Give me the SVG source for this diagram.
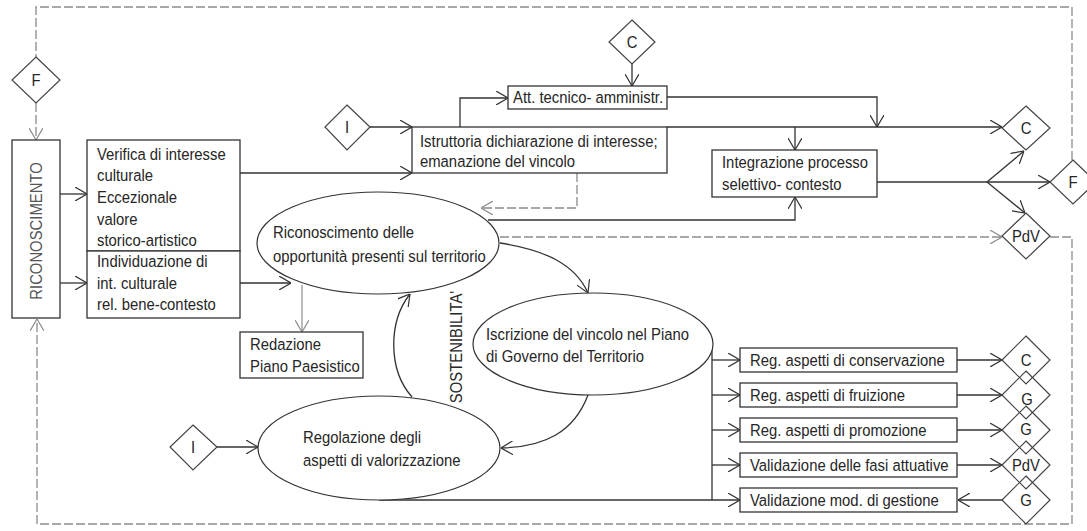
<svg xmlns="http://www.w3.org/2000/svg" width="1087" height="531" viewBox="0 0 1087 531">
  <style>
    text { font-family: "Liberation Sans", Arial, sans-serif; font-size: 16.5px; fill: #262626; }
    .box { fill: #ffffff; stroke: #333333; stroke-width: 1.3; }
    .dia { fill: #ffffff; stroke: #444444; stroke-width: 1.2; }
    .open { fill: none; stroke: #444444; stroke-width: 1.2; }
    .ell { fill: #ffffff; stroke: #333333; stroke-width: 1.2; }
    .ln { fill: none; stroke: #333333; stroke-width: 1.3; }
    .dash { fill: none; stroke: #8c8c8c; stroke-width: 1.3; stroke-dasharray: 9 3; }
    .grey { fill: none; stroke: #8c8c8c; stroke-width: 1.2; }
    .mid { text-anchor: middle; }
    .side { fill: #555555; }
  </style>
  <defs>
    <marker id="arr" viewBox="0 0 12 14" refX="12" refY="7" markerWidth="12" markerHeight="14" markerUnits="userSpaceOnUse" orient="auto">
      <path d="M0,0 L12,7 L0,14" fill="none" stroke="#333333" stroke-width="1.2"/>
    </marker>
    <marker id="arrg" viewBox="0 0 12 14" refX="12" refY="7" markerWidth="12" markerHeight="14" markerUnits="userSpaceOnUse" orient="auto">
      <path d="M0,0 L12,7 L0,14" fill="none" stroke="#8c8c8c" stroke-width="1.2"/>
    </marker>
  </defs>
  <rect width="1087" height="531" fill="#ffffff"/>

  <!-- connectors -->
  <g id="connectors">
    <!-- feedback loops (dashed) -->
    <path class="dash" d="M1072,160 V7 H36 V57"/>
    <path class="dash" d="M36,103 V140" marker-end="url(#arrg)"/>
    <path class="dash" d="M1050,237 H1072 V524 H37 V319" marker-end="url(#arrg)"/>
    <path class="dash" d="M500,237 H1002" marker-end="url(#arrg)"/>
    <path class="dash" d="M577,173 V208 H481" marker-end="url(#arrg)"/>
    <!-- recognition phase -->
    <path class="ln" d="M60,194 H87" marker-end="url(#arr)"/>
    <path class="ln" d="M60,283 H87" marker-end="url(#arr)"/>
    <path class="ln" d="M370,127 H412" marker-end="url(#arr)"/>
    <path class="ln" d="M240,173 H412" marker-end="url(#arr)"/>
    <path class="ln" d="M460,127 V98 H508" marker-end="url(#arr)"/>
    <path class="ln" d="M632,64 V86" marker-end="url(#arr)"/>
    <path class="ln" d="M667,97 H877 V127" marker-end="url(#arr)"/>
    <path class="ln" d="M667,127 H1002" marker-end="url(#arr)"/>
    <path class="ln" d="M795,127 V150" marker-end="url(#arr)"/>
    <path class="ln" d="M488,220 H795 V197" marker-end="url(#arr)"/>
    <path class="ln" d="M877,182 H1050" marker-end="url(#arr)"/>
    <path class="ln" d="M987,182 L1024,151" marker-end="url(#arr)"/>
    <path class="ln" d="M987,182 L1025,213" marker-end="url(#arr)"/>
    <path class="ln" d="M240,283 H291" marker-end="url(#arr)"/>
    <path class="grey" d="M302,285 V332" marker-end="url(#arrg)"/>
    <!-- sustainability cycle -->
    <path class="ln" d="M412,397 C388,370 388,322 410,294" marker-end="url(#arr)"/>
    <path class="ln" d="M500,243 C545,250 575,264 588,293" marker-end="url(#arr)"/>
    <path class="ln" d="M588,395 C574,432 545,447 501,448" marker-end="url(#arr)"/>
    <path class="ln" d="M217,447 H258" marker-end="url(#arr)"/>
    <!-- regulation branches -->
    <path class="ln" d="M712,346 V500"/>
    <path class="ln" d="M379,500 H740" marker-end="url(#arr)"/>
    <path class="ln" d="M712,360 H740" marker-end="url(#arr)"/>
    <path class="ln" d="M712,395 H740" marker-end="url(#arr)"/>
    <path class="ln" d="M712,430 H740" marker-end="url(#arr)"/>
    <path class="ln" d="M712,465 H740" marker-end="url(#arr)"/>
    <path class="ln" d="M957,360 H1002" marker-end="url(#arr)"/>
    <path class="ln" d="M957,395 H1002" marker-end="url(#arr)"/>
    <path class="ln" d="M957,430 H1002" marker-end="url(#arr)"/>
    <path class="ln" d="M957,465 H1002" marker-end="url(#arr)"/>
    <path class="ln" d="M1002,500 H958" marker-end="url(#arr)"/>
  </g>

  <!-- nodes (labels use a slightly narrowed face: scale 0.9 horizontally) -->
  <g id="f-left">
    <polygon class="dia" points="36,57 60,80 36,103 12,80"/>
    <text class="mid" transform="translate(36,86) scale(0.9,1)">F</text>
  </g>
  <g id="riconoscimento">
    <rect class="box" x="12" y="140" width="48" height="178"/>
    <text class="mid side" transform="translate(42,231) rotate(-90) scale(0.9,1)">RICONOSCIMENTO</text>
  </g>
  <g id="verifica">
    <rect class="box" x="87" y="140" width="153" height="111"/>
    <text transform="translate(97,160) scale(0.9,1)">Verifica di interesse</text>
    <text transform="translate(97,181) scale(0.9,1)">culturale</text>
    <text transform="translate(97,203) scale(0.9,1)">Eccezionale</text>
    <text transform="translate(97,225) scale(0.9,1)">valore</text>
    <text transform="translate(97,246) scale(0.9,1)">storico-artistico</text>
  </g>
  <g id="individuazione">
    <rect class="box" x="87" y="251" width="153" height="67"/>
    <text transform="translate(97,267) scale(0.9,1)">Individuazione di</text>
    <text transform="translate(97,289) scale(0.9,1)">int. culturale</text>
    <text transform="translate(97,310) scale(0.9,1)">rel. bene-contesto</text>
  </g>
  <g id="i-top">
    <polygon class="dia" points="347,105 370,127 347,150 325,127"/>
    <text class="mid" transform="translate(347,133) scale(0.9,1)">I</text>
  </g>
  <g id="istruttoria">
    <rect class="box" x="412" y="127" width="255" height="46"/>
    <text transform="translate(420,147) scale(0.9,1)">Istruttoria dichiarazione di interesse;</text>
    <text transform="translate(420,167) scale(0.9,1)">emanazione del vincolo</text>
  </g>
  <g id="c-top">
    <polygon class="dia" points="632,20 655,42 632,64 609,42"/>
    <text class="mid" transform="translate(632,48) scale(0.9,1)">C</text>
  </g>
  <g id="att-tecnico">
    <rect class="box" x="508" y="86" width="159" height="23"/>
    <text transform="translate(513,103) scale(0.9,1)">Att. tecnico- amministr.</text>
  </g>
  <g id="integrazione">
    <rect class="box" x="712" y="150" width="165" height="47"/>
    <text transform="translate(722,168) scale(0.9,1)">Integrazione processo</text>
    <text transform="translate(722,190) scale(0.9,1)">selettivo- contesto</text>
  </g>
  <g id="c-right">
    <polygon class="dia" points="1026,106 1050,128 1026,150 1002,128"/>
    <text class="mid" transform="translate(1026,134) scale(0.9,1)">C</text>
  </g>
  <g id="f-right">
    <polygon class="dia" points="1073,160 1096,182 1073,204 1050,182"/>
    <text class="mid" transform="translate(1073,188) scale(0.9,1)">F</text>
  </g>
  <g id="pdv-top">
    <polygon class="dia" points="1026,213 1050,236 1026,259 1002,236"/>
    <text class="mid" transform="translate(1026,242) scale(0.9,1)">PdV</text>
  </g>
  <g id="opportunita">
    <ellipse class="ell" cx="378" cy="243" rx="121" ry="51"/>
    <text transform="translate(273,238) scale(0.9,1)">Riconoscimento delle</text>
    <text transform="translate(273,262) scale(0.9,1)">opportunità presenti sul territorio</text>
  </g>
  <g id="redazione">
    <rect class="box" x="240" y="332" width="123" height="46"/>
    <text transform="translate(250,350) scale(0.9,1)">Redazione</text>
    <text transform="translate(250,372) scale(0.9,1)">Piano Paesistico</text>
  </g>
  <g id="sostenibilita">
    <text class="mid" transform="translate(462,347) rotate(-90) scale(0.9,1)">SOSTENIBILITA'</text>
  </g>
  <g id="iscrizione">
    <ellipse class="ell" cx="593" cy="344" rx="120" ry="51"/>
    <text transform="translate(486,340) scale(0.9,1)">Iscrizione del vincolo nel Piano</text>
    <text transform="translate(486,362) scale(0.9,1)">di Governo del Territorio</text>
  </g>
  <g id="i-bottom">
    <polygon class="dia" points="193,425 217,447 193,470 170,447"/>
    <text class="mid" transform="translate(193,453) scale(0.9,1)">I</text>
  </g>
  <g id="regolazione">
    <ellipse class="ell" cx="379" cy="448" rx="121" ry="52"/>
    <text transform="translate(303,443) scale(0.9,1)">Regolazione degli</text>
    <text transform="translate(303,466) scale(0.9,1)">aspetti di valorizzazione</text>
  </g>
  <g id="reg-conservazione">
    <rect class="box" x="740" y="348" width="217" height="24"/>
    <text transform="translate(750,366) scale(0.9,1)">Reg. aspetti di conservazione</text>
  </g>
  <g id="reg-fruizione">
    <rect class="box" x="740" y="383" width="217" height="24"/>
    <text transform="translate(750,401) scale(0.9,1)">Reg. aspetti di fruizione</text>
  </g>
  <g id="reg-promozione">
    <rect class="box" x="740" y="418" width="217" height="24"/>
    <text transform="translate(750,436) scale(0.9,1)">Reg. aspetti di promozione</text>
  </g>
  <g id="val-fasi">
    <rect class="box" x="740" y="453" width="217" height="24"/>
    <text transform="translate(750,471) scale(0.9,1)">Validazione delle fasi attuative</text>
  </g>
  <g id="val-gestione">
    <rect class="box" x="740" y="488" width="217" height="24"/>
    <text transform="translate(750,506) scale(0.9,1)">Validazione mod. di gestione</text>
  </g>
  <!-- stacked output diamonds (outlines only, so the overlaps stay visible) -->
  <g id="out-c">
    <polygon class="open" points="1026,336 1050,360 1026,384 1002,360"/>
    <text class="mid" transform="translate(1026,366) scale(0.9,1)">C</text>
  </g>
  <g id="out-g1">
    <polygon class="open" points="1026,371 1050,395 1026,419 1002,395"/>
    <text class="mid" transform="translate(1027,405) scale(0.9,1)">G</text>
  </g>
  <g id="out-g2">
    <polygon class="open" points="1026,406 1050,430 1026,454 1002,430"/>
    <text class="mid" transform="translate(1026,435) scale(0.9,1)">G</text>
  </g>
  <g id="out-pdv">
    <polygon class="open" points="1026,441 1050,465 1026,489 1002,465"/>
    <text class="mid" transform="translate(1026,471) scale(0.9,1)">PdV</text>
  </g>
  <g id="out-g3">
    <polygon class="open" points="1026,476 1050,500 1026,524 1002,500"/>
    <text class="mid" transform="translate(1026,506) scale(0.9,1)">G</text>
  </g>
</svg>
